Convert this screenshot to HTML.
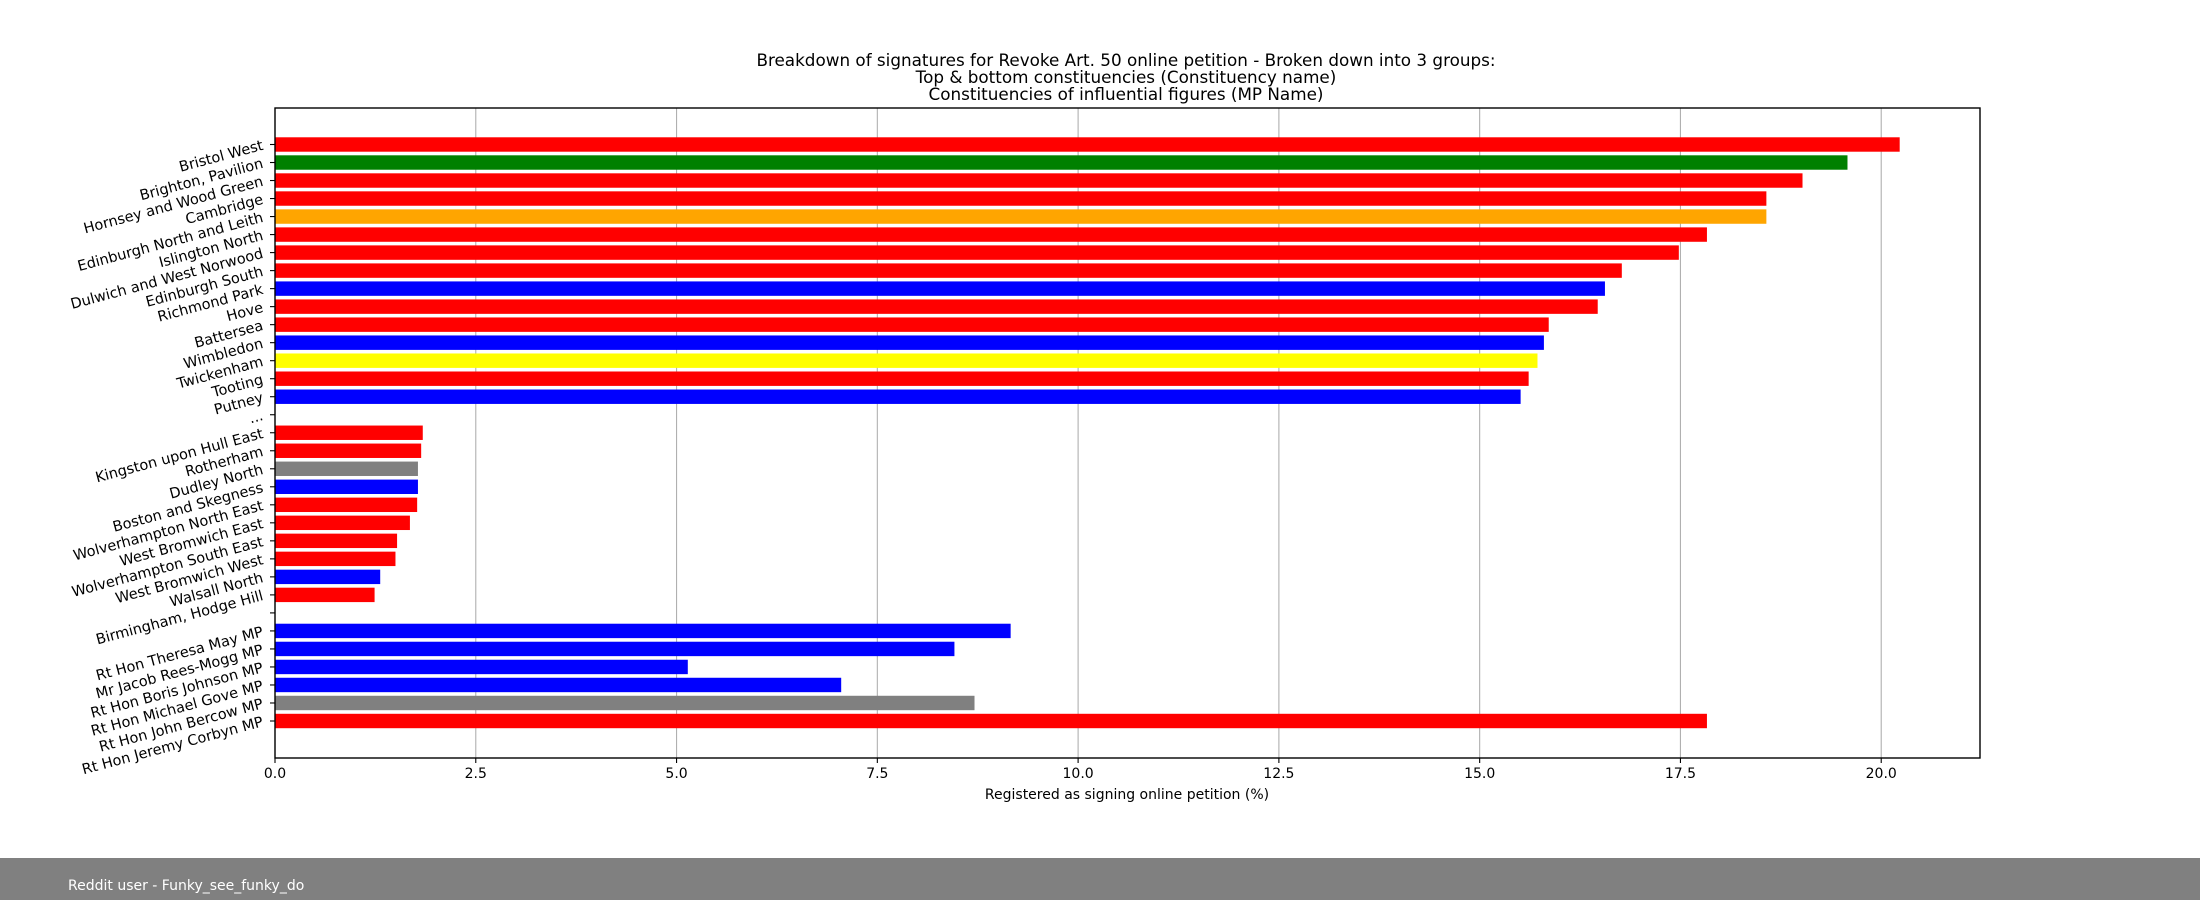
<!DOCTYPE html>
<html><head><meta charset="utf-8"><style>
html,body{margin:0;padding:0;background:#fff;}
svg{display:block;font-family:"DejaVu Sans","Liberation Sans",sans-serif;}
</style></head><body>
<svg id="chart" width="2200" height="900">
<rect x="0" y="858" width="2200" height="42" fill="#808080"/>
<text x="68" y="890" fill="#fff" font-size="14">Reddit user - Funky_see_funky_do</text>
<g font-size="16.8" text-anchor="middle" fill="#000">
<text x="1126" y="66">Breakdown of signatures for Revoke Art. 50 online petition -  Broken down into 3 groups:</text>
<text x="1126" y="83">Top &amp; bottom constituencies (Constituency name)</text>
<text x="1126" y="100">Constituencies of influential figures (MP Name)</text>
</g>
<g id="grid"></g><g id="bars"></g><g id="yaxis"></g><g id="xaxis"></g>
<rect x="275" y="108" width="1705" height="650" fill="none" stroke="#000" stroke-width="1.4"/>
<text x="1127" y="799" font-size="14" text-anchor="middle">Registered as signing online petition (%)</text>
</svg>
<script>
const categories = ["Bristol West","Brighton, Pavilion","Hornsey and Wood Green","Cambridge","Edinburgh North and Leith","Islington North","Dulwich and West Norwood","Edinburgh South","Richmond Park","Hove","Battersea","Wimbledon","Twickenham","Tooting","Putney","...","Kingston upon Hull East","Rotherham","Dudley North","Boston and Skegness","Wolverhampton North East","West Bromwich East","Wolverhampton South East","West Bromwich West","Walsall North","Birmingham, Hodge Hill","","Rt Hon Theresa May MP","Mr Jacob Rees-Mogg MP","Rt Hon Boris Johnson MP","Rt Hon Michael Gove MP","Rt Hon John Bercow MP","Rt Hon Jeremy Corbyn MP"];
const values = [20.23,19.58,19.02,18.57,18.57,17.83,17.48,16.77,16.56,16.47,15.86,15.80,15.72,15.61,15.51,null,1.84,1.82,1.78,1.78,1.77,1.68,1.52,1.50,1.31,1.24,null,9.16,8.46,5.14,7.05,8.71,17.83];
const colors = ["red","green","red","red","orange","red","red","red","blue","red","red","blue","yellow","red","blue",null,"red","red","gray","blue","red","red","red","red","blue","red",null,"blue","blue","blue","blue","gray","red"];
const xTicks = [0,2.5,5,7.5,10,12.5,15,17.5,20];
const xTickLabels = ["0.0","2.5","5.0","7.5","10.0","12.5","15.0","17.5","20.0"];
const NS="http://www.w3.org/2000/svg";
const X0=275,X1=1980,XMAX=21.23;
const x=v=>X0+v/XMAX*(X1-X0);
const rowH=(721-144.5)/(categories.length-1);
const y=i=>144.5+i*rowH;
function mk(tag,attrs,parent){const e=document.createElementNS(NS,tag);for(const k in attrs)e.setAttribute(k,attrs[k]);parent.appendChild(e);return e;}
const grid=document.getElementById('grid'),bars=document.getElementById('bars'),ya=document.getElementById('yaxis'),xa=document.getElementById('xaxis');
xTicks.forEach((t,i)=>{
  const g=mk('line',{x1:x(t),x2:x(t),y1:108,y2:758,stroke:'#b0b0b0','stroke-width':1.1},grid);
  
  
  const tk=mk('line',{x1:x(t),x2:x(t),y1:758,y2:763,stroke:'#000','stroke-width':1.1},xa);
  
  
  const lb=mk('text',{x:x(t),y:778,'font-size':14,'text-anchor':'middle'},xa);
  lb.textContent=xTickLabels[i];
  
  
});
categories.forEach((c,i)=>{
  const cy=y(i);
  if(values[i]!==null){
    const h=rowH*0.8;
    const r=mk('rect',{x:X0,y:cy-h/2,width:x(values[i])-X0,height:h,fill:colors[i]},bars);
    
    
  }
  const tk=mk('line',{x1:X0-5,x2:X0,y1:cy,y2:cy,stroke:'#000','stroke-width':1.1},ya);
  
  
  const lx=264,ly=cy+5;
  const lb=mk('text',{x:lx,y:ly,'font-size':14.5,'text-anchor':'end',transform:`rotate(-15 ${lx} ${ly})`},ya);
  lb.textContent=c;
  
  
});
</script>
</body></html>
